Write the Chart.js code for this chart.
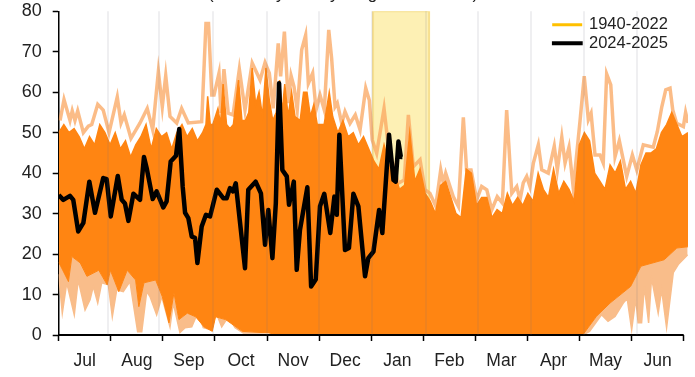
<!DOCTYPE html>
<html>
<head>
<meta charset="utf-8">
<script src="https://cdn.jsdelivr.net/npm/chart.js@4"></script>
<style>
  html, body { margin: 0; padding: 0; background: #fff; overflow: hidden; }
  #wrap { position: relative; width: 695px; height: 377px; overflow: hidden; }
  #cut-title { position: absolute; left: 208px; top: -15px; font: 17px/17px "Liberation Sans", Arial, sans-serif; color: #222; white-space: nowrap; }
</style>
</head>
<body>
<div id="wrap">
  <div id="cut-title">(Series by all day range 1940-2025)</div>
  <canvas id="chart" width="695" height="377"></canvas>
</div>
<script>
const monthNames = ['Jul', 'Aug', 'Sep', 'Oct', 'Nov', 'Dec', 'Jan', 'Feb', 'Mar', 'Apr', 'May', 'Jun'];
const yTicks = [0, 10, 20, 30, 40, 50, 60, 70, 80];
const legendNames = ['1940-2022', '2024-2025'];

// faint vertical lines, they do not sit on the axis ticks
const gridDays = [28.6, 58.7, 90, 121.4, 152, 183, 214.5, 244.6, 275.7, 307, 338];

// shaded winter band
const bandDays = [183.6, 183.6, 216.3, 216.3];
const bandValues = [0, 80, 80, 0];

// highest peaks of the 1940-2022 lines
const peakDays = [0.8, 3.1, 6.6, 7.9, 9.5, 11.1, 14.4, 17.3, 19.3, 22.8, 26, 29.4, 34.2, 36.4, 38.3, 42.2, 47.5, 51.7, 54.9, 58.2, 60.5, 62.5, 65, 68.9, 71.8, 75.7, 83.5, 86, 87.5, 89.4, 90.7, 93.6, 94.8, 96.5, 99, 101.8, 105.5, 108.8, 113, 117.6, 120.5, 123, 125.3, 128.2, 129.6, 131.8, 134.1, 135.7, 137.4, 139.3, 141.9, 144.2, 145.8, 148.3, 150.3, 152.6, 155.1, 157.7, 159.4, 161.4, 162.7, 165.3, 167.2, 170.1, 173.2, 176, 179.3, 181.4, 183.1, 185.7, 190, 192.5, 198.3, 201.8, 204.2, 207.1, 211, 213.9, 216.8, 220.2, 223.1, 224.6, 226, 230.4, 233.4, 236.3, 238.2, 240.8, 244.1, 247, 250, 252.9, 256.1, 259.1, 261.6, 264.6, 267.5, 269.4, 271.3, 273.3, 275.2, 277.2, 280.1, 282.1, 285.9, 289.4, 291.2, 293.8, 295.7, 298, 300.5, 304.4, 306.9, 309.3, 310.9, 313.2, 316.1, 318, 320, 322.4, 324.9, 327.4, 331.7, 335, 337.6, 341.4, 347.2, 349.6, 352.2, 354.5, 357, 358.6, 360.9, 364.8, 366.1, 367.5];
const peakValues = [53, 58.2, 53, 55.4, 53, 55.4, 50, 51.6, 52, 57, 55.6, 50, 58.8, 52.4, 54.4, 48.6, 52.4, 56, 50.7, 65.1, 56.4, 64.1, 54, 52.4, 56, 52.4, 52.7, 77, 77, 59.3, 59.3, 64.7, 54.9, 65.7, 54.8, 54.4, 65.7, 55.6, 67.2, 63, 67.3, 64.7, 56, 72.1, 63.9, 75, 57.3, 64.1, 61.4, 55.6, 70.5, 74.1, 62.2, 64.7, 55.6, 59.3, 55.6, 75.4, 68.3, 56.4, 57.3, 52.3, 55.2, 52.3, 54.4, 50.7, 61, 58, 48.2, 44.9, 56, 46.6, 37.5, 38.3, 54.4, 41.6, 43.3, 35.9, 35, 31.8, 40.8, 37.5, 40, 34.2, 31.8, 53.8, 40.8, 40.8, 33.4, 36.7, 35.9, 30.9, 34.2, 32.6, 55.6, 35, 36.7, 33.4, 37.6, 39.2, 36.7, 42.5, 47, 40.8, 40, 46.7, 40.8, 48.9, 42.5, 46.4, 36.3, 52.7, 64, 53.2, 54.8, 44.5, 44.5, 42.5, 64.5, 61.8, 44.1, 48, 39.2, 44.5, 40.8, 47, 46.4, 50.3, 56.4, 60.6, 61, 55.6, 52.3, 51.5, 55, 52.4];

// top edge of the solid mass of lines
const solidTopDays = [0, 3, 6, 9, 12, 15, 18, 21, 24, 27, 30, 33, 36, 39, 42, 45, 48, 51, 54, 57, 60, 63, 66, 69, 72, 75, 78, 81, 84, 86, 87, 88.5, 90, 93, 94.5, 96, 98, 100, 102, 105, 107, 109, 111, 113, 115, 117, 119, 121, 123, 125, 127, 129, 130.5, 132, 134, 136, 138, 141, 143, 145, 147, 149, 151, 155, 158, 160, 163, 166, 169, 172, 175, 178, 181, 184, 187, 190, 193, 196, 199, 202, 205, 208, 211, 214, 217, 220, 223, 226, 229, 232, 235, 238, 241, 244, 247, 250, 253, 256, 259, 262, 265, 268, 271, 274, 277, 280, 283, 286, 289, 292, 295, 298, 301, 304, 307, 310, 313, 316, 319, 322, 325, 328, 331, 334, 337, 340, 343, 346, 349, 352, 355, 358, 361, 364, 367.5];
const solidTopValues = [50, 52, 50, 51, 49, 46, 49, 47, 52, 50, 47, 50, 46, 48, 44, 47, 49, 52, 46, 51, 49, 50, 46, 50, 52, 49, 51, 48, 50, 52, 59, 52, 52, 56, 52, 62, 52, 51, 52, 63, 53, 53, 55, 66, 57, 60, 54, 66, 58, 53, 55, 63, 55, 62, 54, 60, 54, 53, 60, 60, 54, 57, 52, 52, 60, 54, 50, 53, 49, 50, 47, 49, 46, 43, 41, 47, 42, 40, 36, 37, 50, 38, 41, 35, 33, 30, 37, 38, 34, 30, 29, 41, 40, 32, 34, 34, 29, 31, 30, 35, 32, 34, 32, 35, 33, 40, 36, 34, 41, 35, 38, 36, 33, 47, 50, 48, 40, 38, 36, 42, 40, 43, 36, 38, 35, 42, 45, 45, 46, 50, 52, 55, 52, 49, 50];

// bottom edge of the solid mass of lines
const solidLowDays = [0, 5.7, 7.7, 12.6, 16.5, 23.4, 28.3, 30.2, 35.1, 40, 44.9, 46.8, 49.8, 56.6, 60.5, 64.4, 67.3, 70.2, 75.1, 80, 84.9, 89.7, 91.6, 97.5, 107.2, 122.8, 128.7, 306, 314, 322, 334, 340, 353.6, 361, 367.5];
const solidLowValues = [18, 13.2, 19.4, 17.8, 14.5, 16, 12.4, 16, 10.7, 16, 13.6, 7, 12.9, 13.6, 9.5, 3, 10.4, 3.8, 5.4, 4.5, 2, 0.9, 4.5, 3.8, 0.9, 0.5, 0, 0, 4.6, 7.9, 12, 17, 18.6, 21.5, 21.8];

// lowest fingers of the 1940-2022 lines
const lowDays = [0, 2.1, 4.7, 9.1, 11.4, 15.4, 18.3, 20.2, 22.8, 25.1, 29, 31.3, 33.9, 37.7, 41.6, 46.1, 48.5, 51.4, 53.3, 57.2, 60.2, 65, 66.9, 70.8, 73.8, 77.7, 81.5, 84.4, 89.4, 91.3, 95.2, 99, 103, 107.8, 118.6, 125, 128, 306, 310, 317, 320.8, 324.9, 329.7, 332, 334.6, 337, 338.4, 340.4, 342, 344.5, 346.2, 350.1, 352.1, 355, 358.9, 361.8, 367.3];
const lowValues = [15, 5.4, 12.9, 5, 13.6, 6.2, 8.7, 12, 7.9, 12.9, 12.4, 4.5, 11.2, 10.7, 13.2, 0.8, 0.8, 10.7, 9.5, 5, 9.5, 2, 7.9, 0.6, 1.8, 2, 5.8, 1.8, 1.3, 6.2, 2, 4.5, 1.8, 0.5, 0.5, 0.8, 0, 0, 0.9, 5, 3.4, 4.6, 7.9, 9, 1.3, 9, 3, 3, 12, 3, 14.1, 5.4, 11.2, 1.8, 15.4, 17.4, 19.8];

// 2024-2025 line
const recentDays = [0, 2.7, 6.6, 8.5, 11.4, 14.4, 17.9, 21.2, 26, 28, 30.4, 34.5, 36.8, 38.7, 40.7, 43.6, 47.5, 49.8, 51.5, 54.9, 57.2, 61.1, 63, 65.4, 68.5, 70.4, 72.4, 73.8, 75.7, 77.7, 79.6, 81, 83.5, 86, 88.4, 92.3, 96.1, 98.1, 100, 101.8, 103.4, 108.8, 110.7, 115, 118.1, 120.5, 122.4, 124.8, 126.8, 128.7, 130.6, 133.2, 134.5, 137.3, 139, 140.9, 145.2, 147.4, 150.1, 152.6, 155.1, 158.6, 161, 162.4, 163.9, 167.2, 169.5, 172.1, 175, 178.9, 180.8, 183.8, 187.1, 189, 192.9, 195.5, 196.8, 198.4, 199.8, 200.7];
const recentValues = [34.6, 33.4, 34.4, 33.4, 25.6, 27.7, 37.9, 30.2, 38.8, 38.5, 29.3, 39.3, 33.4, 32.5, 28.2, 34.9, 33.4, 44, 41, 33.6, 35.5, 31.5, 33, 42.9, 44.3, 50.9, 36.7, 30.2, 28.9, 24.3, 24, 17.8, 26.8, 29.7, 29.3, 35.9, 33.8, 33.8, 36.3, 35.5, 37.5, 16.5, 35.9, 37.9, 35, 22.3, 30.9, 19, 32.6, 62.2, 40.8, 39.2, 32.2, 37.9, 16.1, 26, 36.5, 12, 13.7, 31.8, 34.9, 25.2, 34.2, 29.7, 49.5, 21, 21.5, 34.9, 31.8, 14.5, 19, 20.6, 30.9, 25.2, 49.5, 38.3, 37.9, 47.8, 44, 44];

const axisDays = [0, 365];
const axisValues = [0, 0];

const ORANGE = '#FF8512';
const LIGHT = 'rgba(250, 165, 95, 0.75)';
const LIGHT_FILL = '#F9BD8A';
const FONT = '"Liberation Sans", Arial, sans-serif';
const TEXT = '#222';

function pairs(days, values) {
  return days.map(function(d, i) { return { x: d, y: values[i] }; });
}

// stop the tick labels from pushing the plot area around
function noLabelPadding(scale) {
  scale.paddingTop = 0;
  scale.paddingBottom = 0;
  scale.paddingLeft = 0;
  scale.paddingRight = 0;
}

const monthLen = 365 / 12;
const xEnd = 367.5;

// the legend sits in the top right corner of the plot
const moveLegend = {
  id: 'moveLegend',
  afterLayout: function(chart) {
    chart.legend.left = 551.7;
    chart.legend.top = 14.5;
  }
};

new Chart(document.getElementById('chart').getContext('2d'), {
  type: 'line',
  plugins: [moveLegend],
  data: {
    datasets: [
      { data: pairs(axisDays, axisValues), borderColor: '#000', borderWidth: 2, clip: false, order: 0 },
      { data: pairs(recentDays, recentValues), borderColor: '#000', borderWidth: 4.5, borderJoinStyle: 'round', order: 1 },
      { data: pairs(solidTopDays, solidTopValues), borderColor: ORANGE, borderWidth: 1.5, backgroundColor: ORANGE, fill: 3, order: 2 },
      { data: pairs(solidLowDays, solidLowValues), borderColor: ORANGE, borderWidth: 1, order: 3 },
      { data: pairs(lowDays, lowValues), borderColor: LIGHT_FILL, borderWidth: 1.5, backgroundColor: LIGHT_FILL, fill: 3, order: 4 },
      { data: pairs(peakDays, peakValues), borderColor: LIGHT, borderWidth: 3.5, order: 5 },
      { data: pairs(bandDays, bandValues), borderColor: '#F7E08F', borderWidth: 2, backgroundColor: '#FDF0B4', fill: 'origin', order: 6 }
    ]
  },
  options: {
    responsive: false,
    animation: false,
    layout: { padding: { top: 11.3, right: 7 } },
    elements: { point: { radius: 0 }, line: { tension: 0 } },
    plugins: {
      tooltip: { enabled: false },
      legend: {
        position: 'chartArea',
        align: 'start',
        labels: {
          color: TEXT,
          font: { family: FONT, size: 16.5 },
          usePointStyle: true,
          pointStyleWidth: 27,
          boxHeight: 16,
          padding: 2,
          generateLabels: function() {
            return [
              { text: legendNames[0], pointStyle: 'line', strokeStyle: '#FFC000', lineWidth: 3, lineCap: 'square', fillStyle: '#FFC000', fontColor: TEXT },
              { text: legendNames[1], pointStyle: 'line', strokeStyle: '#000', lineWidth: 4, lineCap: 'square', fillStyle: '#000', fontColor: TEXT }
            ];
          }
        }
      }
    },
    scales: {
      x: {
        type: 'linear',
        min: 0,
        max: xEnd,
        afterFit: function(scale) { scale.height = 42; noLabelPadding(scale); },
        // even ticks are the marks, odd ones only carry the month name
        afterBuildTicks: function(scale) {
          const ticks = [];
          for (let i = 0; i < 25; i++) ticks.push({ value: i * monthLen / 2 });
          scale.ticks = ticks;
        },
        border: { display: false },
        grid: {
          drawOnChartArea: false,
          tickLength: 6,
          tickWidth: 1.5,
          tickColor: function(ctx) { return ctx.index % 2 === 0 ? '#000' : 'rgba(0,0,0,0)'; }
        },
        ticks: {
          autoSkip: false,
          maxRotation: 0,
          padding: 10,
          color: TEXT,
          font: { family: FONT, size: 17.5 },
          callback: function(v, i) { return i % 2 === 1 ? monthNames[(i - 1) / 2] : ''; }
        }
      },
      xGrid: {
        type: 'linear',
        position: 'bottom',
        min: 0,
        max: xEnd,
        afterFit: function(scale) { scale.height = 0; noLabelPadding(scale); },
        afterBuildTicks: function(scale) {
          scale.ticks = gridDays.map(function(d) { return { value: d }; });
        },
        border: { display: false },
        grid: { z: 1, color: 'rgba(110, 110, 130, 0.11)', lineWidth: 2, drawTicks: false },
        ticks: { display: false }
      },
      y: {
        min: 0,
        max: 80,
        afterFit: function(scale) { scale.width = 58.7; noLabelPadding(scale); },
        afterBuildTicks: function(scale) {
          scale.ticks = yTicks.map(function(v) { return { value: v }; });
        },
        border: { color: '#000', width: 1.5 },
        grid: { drawOnChartArea: false, tickLength: 6, tickWidth: 1.5, tickColor: '#000' },
        ticks: { padding: 11, color: TEXT, font: { family: FONT, size: 18 } }
      }
    }
  }
});
</script>
</body>
</html>
